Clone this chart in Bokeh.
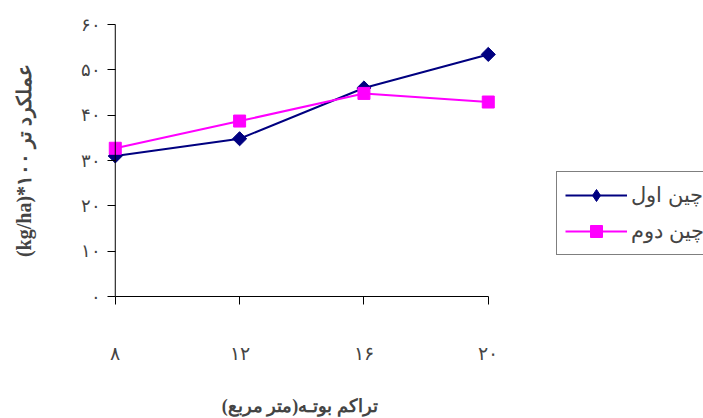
import math
from bokeh.plotting import figure
from bokeh.models import FixedTicker, Legend, LegendItem, Range1d, Span
from bokeh.embed import file_html
from bokeh.resources import INLINE

# ---- data ----
density = [8, 12, 16, 20]
x_tick_labels = ["۸", "۱۲", "۱۶", "۲۰"]
y_ticks = [0, 10, 20, 30, 40, 50, 60]
y_tick_labels = ["۰", "۱۰", "۲۰", "۳۰", "۴۰", "۵۰", "۶۰"]
cut1 = [31.0, 34.8, 46.0, 53.4]   # چین اول
cut2 = [32.7, 38.7, 44.8, 42.9]   # چین دوم
series_names = ["چین اول", "چین دوم"]
x_title = "\u200fتراکم بوتـه(متر  مربع)\u200f"
y_title = "(kg/ha)*عملکرد تر ۱۰۰"

# layout: 31.08 px per density unit, frame runs to the right edge (legend lives inside it)
PX_PER_UNIT = 373 / 12
FRAME_LEFT = 107
W, H = 703, 418
x_end = 7.75 + (W - FRAME_LEFT) / PX_PER_UNIT
# the axis title is centred on the whole frame; trailing no-break spaces move the
# visible words to the centre of the category span
X_TITLE_PAD = "\u00a0" * 46

p = figure(width=W, height=H, output_backend="svg", toolbar_location=None,
           x_range=Range1d(7.75, x_end), y_range=Range1d(0, 60),
           min_border_left=FRAME_LEFT, min_border_right=0,
           min_border_top=24, min_border_bottom=121)
p.outline_line_color = None
p.grid.visible = False
p.background_fill_color = "white"
p.border_fill_color = "white"

NAVY = "#000080"
MAG = "#FF00FF"

# vertical axis line through the first category
p.add_layout(Span(location=density[0], dimension="height",
                  line_color="black", line_width=1))

l1 = p.line(density, cut1, line_color=NAVY, line_width=2)
# diamond glyph used for the legend (legend markers are drawn unrotated); hidden under the rotated squares
m1_leg = p.scatter(density, cut1, marker="diamond", size=12, fill_color=NAVY, line_color=NAVY)
m1 = p.scatter(density, cut1, marker="square", angle=math.pi / 4, size=10,
               fill_color=NAVY, line_color=NAVY)
l2 = p.line(density, cut2, line_color=MAG, line_width=2)
m2 = p.scatter(density, cut2, marker="square", size=12,
               fill_color=MAG, line_color=MAG)

ya = p.yaxis[0]
ya.ticker = FixedTicker(ticks=y_ticks)
ya.major_label_overrides = {t: s for t, s in zip(y_ticks, y_tick_labels)}
ya.minor_tick_line_color = None
ya.axis_line_color = None
ya.major_tick_in = 8
ya.major_tick_out = 0
ya.major_tick_line_color = "black"
ya.major_label_standoff = 7
ya.major_label_text_font = "Liberation Serif"
ya.major_label_text_font_size = "18px"
ya.axis_label = y_title
ya.axis_label_text_font = "Liberation Serif"
ya.axis_label_text_font_style = "bold"
ya.axis_label_text_font_size = "20px"
ya.axis_label_standoff = 43

xa = p.xaxis[0]
xa.bounds = (8, 20)
xa.ticker = FixedTicker(ticks=density)
xa.major_label_overrides = {t: s for t, s in zip(density, x_tick_labels)}
xa.minor_tick_line_color = None
xa.major_tick_in = 0
xa.major_tick_out = 8
xa.major_label_standoff = 38
xa.major_label_text_font = "Liberation Serif"
xa.major_label_text_font_size = "19px"
xa.axis_line_color = "black"
xa.major_tick_line_color = "black"
xa.axis_label = x_title + X_TITLE_PAD
xa.axis_label_text_font = "Liberation Serif"
xa.axis_label_text_font_style = "bold"
xa.axis_label_text_font_size = "18px"
xa.axis_label_standoff = 29

legend = Legend(items=[LegendItem(label=series_names[0], renderers=[l1, m1_leg]),
                       LegendItem(label=series_names[1], renderers=[l2, m2])],
                location=(449, 41))
legend.glyph_width = 62
legend.glyph_height = 30
legend.label_height = 30
legend.label_standoff = 4
legend.padding = 8
legend.spacing = 6
legend.margin = 0
legend.border_line_color = "black"
legend.border_line_width = 1
legend.background_fill_color = "white"
legend.background_fill_alpha = 1
legend.label_text_font = "Liberation Sans"
legend.label_text_font_size = "21px"
p.add_layout(legend)

open("out.html", "w").write(file_html(p, INLINE))
